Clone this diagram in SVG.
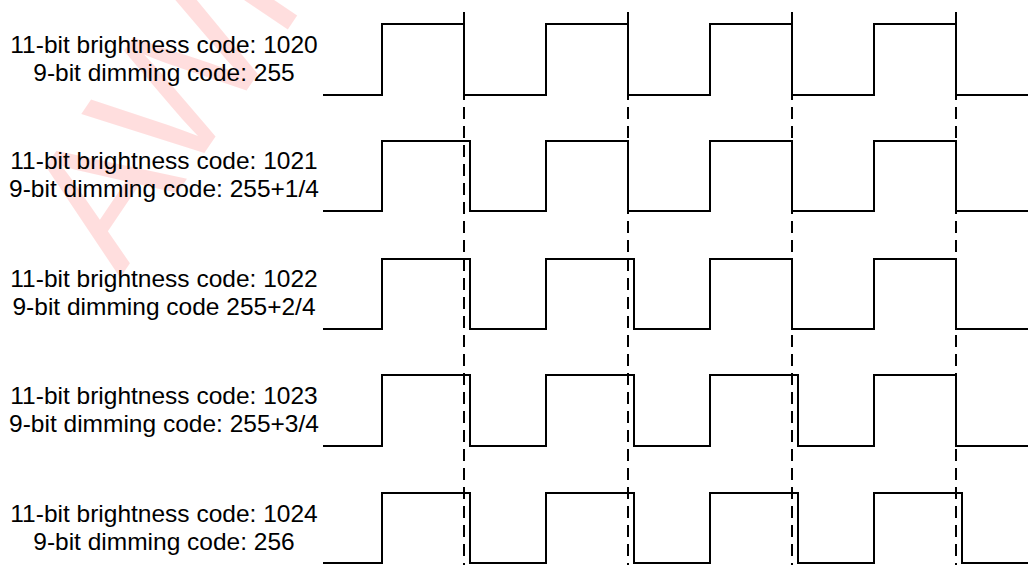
<svg xmlns="http://www.w3.org/2000/svg" width="1028" height="565" viewBox="0 0 1028 565">
<style>
.lbl{font-family:"Liberation Sans",Arial,sans-serif;font-size:24.5px;fill:#000;text-anchor:middle}
.wave{fill:none;stroke:#000;stroke-width:2;stroke-linejoin:miter}
.dash{fill:none;stroke:#000;stroke-width:2;stroke-dasharray:12 7}
.wm{font-family:"Liberation Sans",Arial,sans-serif;font-size:180px;fill:#ff0000;fill-opacity:0.13}
</style>
<rect width="1028" height="565" fill="#fff"/>
<text class="wm" transform="translate(120,278) rotate(-56)">AWI</text>
<g id="connectors">
<line class="dash" x1="464" y1="12" x2="464" y2="565"/>
<line class="dash" x1="628" y1="12" x2="628" y2="565"/>
<line class="dash" x1="792" y1="12" x2="792" y2="565"/>
<line class="dash" x1="956" y1="12" x2="956" y2="565"/>
</g>
<g id="row1">
<text class="lbl" x="164" y="52.5">11-bit brightness code: 1020</text>
<text class="lbl" x="164" y="81">9-bit dimming code: 255</text>
<path class="wave" d="M323,95 H382 V24 H464 V95 H546 V24 H628 V95 H710 V24 H792 V95 H874 V24 H956 V95 H1028"/>
</g>
<g id="row2">
<text class="lbl" x="164" y="168.5">11-bit brightness code: 1021</text>
<text class="lbl" x="164" y="197">9-bit dimming code: 255+1/4</text>
<path class="wave" d="M323,211 H382 V141 H470 V211 H546 V141 H628 V211 H710 V141 H792 V211 H874 V141 H956 V211 H1028"/>
</g>
<g id="row3">
<text class="lbl" x="164" y="287">11-bit brightness code: 1022</text>
<text class="lbl" x="164" y="315">9-bit dimming code 255+2/4</text>
<path class="wave" d="M323,329 H382 V259 H470 V329 H546 V259 H634 V329 H710 V259 H792 V329 H874 V259 H956 V329 H1028"/>
</g>
<g id="row4">
<text class="lbl" x="164" y="403.5">11-bit brightness code: 1023</text>
<text class="lbl" x="164" y="432">9-bit dimming code: 255+3/4</text>
<path class="wave" d="M323,446 H382 V375 H470 V446 H546 V375 H634 V446 H710 V375 H798 V446 H874 V375 H956 V446 H1028"/>
</g>
<g id="row5">
<text class="lbl" x="164" y="522">11-bit brightness code: 1024</text>
<text class="lbl" x="164" y="550">9-bit dimming code: 256</text>
<path class="wave" d="M323,563 H382 V493 H470 V563 H546 V493 H634 V563 H710 V493 H798 V563 H874 V493 H962 V563 H1028"/>
</g>
</svg>
